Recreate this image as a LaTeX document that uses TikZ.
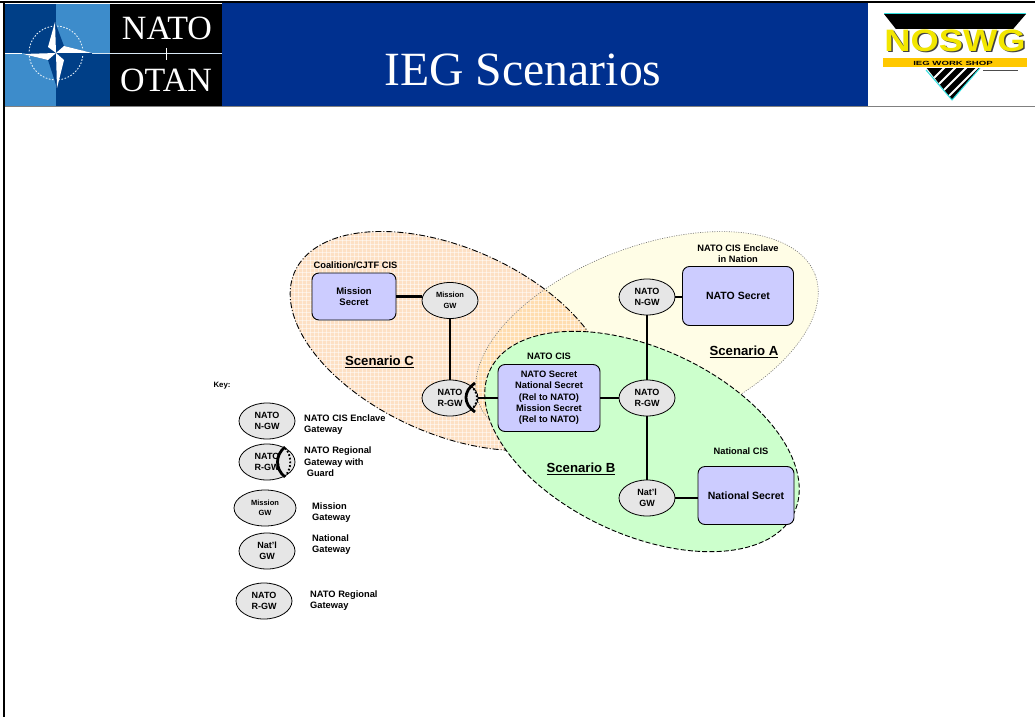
\documentclass[tikz,border=0pt]{standalone}
\usepackage{fontspec}
\setmainfont{Liberation Sans}
\newfontfamily\serifhead{Liberation Serif}
\usetikzlibrary{shapes.geometric}
\definecolor{navyh}{HTML}{00308F}
\definecolor{boxfill}{HTML}{CCCCFF}
\definecolor{gwfill}{HTML}{E6E6E6}
\definecolor{orangef}{HTML}{FDE0C4}
\definecolor{overlapf}{HTML}{FFDDB0}
\definecolor{yellowf}{HTML}{FFFDE6}
\definecolor{greenf}{HTML}{CCFFCC}
\definecolor{natodark}{HTML}{003F87}
\definecolor{natolight}{HTML}{3D8CCB}
\definecolor{logoy}{HTML}{F2E600}
\definecolor{logoo}{HTML}{FFC800}
\definecolor{logoc}{HTML}{30E0E0}
\tikzset{
 x=1pt,y=-1pt,
 sysbox/.style={draw=black,fill=boxfill,line width=0.9pt,rounded corners=7pt,font=\fontsize{9.5}{11.5}\bfseries\selectfont,align=center,inner sep=0pt},
 gw/.style={draw=black,fill=gwfill,line width=0.8pt,ellipse,minimum width=56pt,minimum height=36pt,inner sep=0pt,align=center,font=\fontsize{9}{11}\bfseries\selectfont},
 gwsmall/.style={gw,font=\fontsize{7.5}{10.5}\bfseries\selectfont},
 lab/.style={font=\fontsize{9.3}{11.6}\bfseries\selectfont,align=left,anchor=west,inner sep=0pt},
 captext/.style={font=\fontsize{9.3}{11}\bfseries\selectfont,align=center,inner sep=0pt},
 scen/.style={font=\fontsize{13.2}{15}\bfseries\selectfont,inner sep=0pt},
 link/.style={line width=2.8pt,draw=black},
 guardo/.style={line width=2.8pt},
 guardi/.style={line width=1.9pt,dash pattern=on 1.7pt off 2pt},
 pw/.style={fill=white},
}
\def\ellorange{plot[domain=0:360,samples=180,variable=\t] ({450+170*cos(\t)*cos(24)-93*sin(\t)*sin(24)},{341+170*cos(\t)*sin(24)+93*sin(\t)*cos(24)}) -- cycle}
\def\ellyellow{plot[domain=0:360,samples=180,variable=\t] ({647+180*cos(\t)*cos(21)+92*sin(\t)*sin(21)},{339-180*cos(\t)*sin(21)+92*sin(\t)*cos(21)}) -- cycle}
\def\ellgreen{plot[domain=0:360,samples=180,variable=\t] ({642+168*cos(\t)*cos(25)-93*sin(\t)*sin(25)},{441.5+168*cos(\t)*sin(25)+93*sin(\t)*cos(25)}) -- cycle}
\begin{document}
\begin{tikzpicture}
\useasboundingbox (0,0) rectangle (1035,717);
\fill[white] (0,0) rectangle (1035,717);
% header
\fill[navyh] (222,3) rectangle (868,106);
\fill[black] (110,4) rectangle (222,106);
\fill[natodark] (5,4) rectangle (56,53);
\fill[natolight] (56,4) rectangle (110,53);
\fill[natolight] (5,53) rectangle (56,106);
\fill[natodark] (56,53) rectangle (110,106);
\draw[white!85!natolight,line width=0.9pt,dash pattern=on 1.6pt off 1.6pt] (56,53) circle (27);
\draw[white,line width=0.9pt] (5,53) -- (22,53);
\draw[white!80!natolight,line width=0.9pt] (92,53) -- (222,53);
\draw[white,line width=0.9pt] (166,48) -- (166,60);
\fill[natodark] (55,22) -- (64,46) -- (92,53) -- (64,60) -- (57,88) -- (48,60) -- (23,54) -- (48,47) -- cycle;
\fill[pw] (56,53) -- (55,22) -- (48,47) -- cycle;
\fill[pw] (56,53) -- (92,53) -- (64,46) -- cycle;
\fill[pw] (56,53) -- (57,88) -- (64,60) -- cycle;
\fill[pw] (56,53) -- (23,54) -- (48,60) -- cycle;
\node[text=white,font=\serifhead\fontsize{34}{36}\selectfont,inner sep=0pt] (natot) at (167,28) {NATO};
\node[text=white,font=\serifhead\fontsize{34}{36}\selectfont,inner sep=0pt] (otant) at (166,80) {OTAN};
\node[text=white,font=\serifhead\fontsize{47.7}{50}\selectfont,inner sep=0pt] (title) at (523,70) {IEG Scenarios};
% NOSWG logo
\begin{scope}
\clip (884,14) -- (1026,14) -- (952,100) -- cycle;
\fill[black] (880,10) rectangle (1030,105);
\foreach \i in {0,...,5}{\draw[white,line width=2pt] (922+\i*9,90+\i*2) -- (952+\i*9,60+\i*2);}
\end{scope}
\draw[logoc,line width=1pt] (884,13.5) -- (1026,13.5);
\draw[logoc,line width=1pt] (926,70) -- (952,100) -- (980,68);
\fill[white] (880,29) rectangle (1030,68);
\node[text=black!75,font=\fontsize{31}{32}\bfseries\selectfont,inner sep=0pt,xscale=1.17] (nosb) at (956.5,42) {NOSWG};
\node[text=logoy,font=\fontsize{31}{32}\bfseries\selectfont,inner sep=0pt,xscale=1.17] (nos) at (955,40.5) {NOSWG};
\fill[logoo] (883,58) rectangle (1027,67);
\fill[black!70] (983,69.5) rectangle (1018,71);
\node[text=black,font=\fontsize{6}{7}\bfseries\selectfont,inner sep=0pt,xscale=1.6] (shop) at (953,63) {IEG WORK SHOP};
% frame
\draw[black,line width=2.4pt] (0,2) -- (1035,2);
\draw[black,line width=1.6pt] (4,2) -- (4,717);
\draw[gray,line width=0.8pt] (5,106.5) -- (1035,106.5);
% scenario regions
\fill[orangef] \ellorange;
\begin{scope}
\clip \ellorange;
\foreach \k in {0,...,90}{\draw[white,opacity=0.5,line width=0.6pt] (270+\k*4,220) -- (270+\k*4,460);}
\foreach \k in {0,...,60}{\draw[white,opacity=0.5,line width=0.6pt] (270,220+\k*4) -- (620,220+\k*4);}
\end{scope}
\fill[yellowf] \ellyellow;
\begin{scope}
\clip \ellyellow;
\fill[overlapf] \ellorange;
\clip \ellorange;
\foreach \k in {0,...,90}{\draw[white,opacity=0.5,line width=0.6pt] (270+\k*4,220) -- (270+\k*4,460);}
\foreach \k in {0,...,60}{\draw[white,opacity=0.5,line width=0.6pt] (270,220+\k*4) -- (620,220+\k*4);}
\end{scope}
\draw[black,line width=0.9pt,dash pattern=on 6pt off 2pt on 1pt off 2pt] \ellorange;
\draw[black!55,line width=0.6pt,dash pattern=on 1pt off 1.4pt] \ellyellow;
\draw[black,fill=greenf,line width=0.9pt,dash pattern=on 5pt off 2.2pt] \ellgreen;
% nodes
\node[sysbox,minimum width=84pt,minimum height=47pt] (ms) at (354,296.5) {Mission\\Secret};
\node[gwsmall] (mgw) at (450,300.5) {Mission\\GW};
\node[gw] (rgwc) at (450,398) {NATO\\R-GW};
\node[sysbox,minimum width=102pt,minimum height=67pt,font=\fontsize{9.3}{11.3}\bfseries\selectfont] (nc) at (549,398) {NATO Secret\\National Secret\\(Rel to NATO)\\Mission Secret\\(Rel to NATO)};
\node[gw] (rgwb) at (647,398) {NATO\\R-GW};
\node[gw] (ngw) at (647,297) {NATO\\N-GW};
\node[sysbox,minimum width=111pt,minimum height=59pt,font=\fontsize{10.5}{12}\bfseries\selectfont] (ns) at (738,296) {NATO Secret};
\node[gw] (natl) at (647,498) {Nat'l\\GW};
\node[sysbox,minimum width=96pt,minimum height=58pt,font=\fontsize{10.5}{12}\bfseries\selectfont] (nat) at (746,495.5) {National Secret};
\draw[link] (ms.east) -- (ms.east -| mgw.west);
\draw[link] (mgw) -- (rgwc);
\draw[link] (rgwb) -- (nc);
\draw[link] (rgwb) -- (ngw);
\draw[link] (ngw.east) -- (ngw.east -| ns.west);
\draw[link] (rgwb) -- (natl);
\draw[link] (natl.east) -- (natl.east -| nat.west);
\draw[link] (nc) -- (rgwc);
\draw[guardo] (475,383) .. controls (463,391) and (463,404) .. (475,412);
\draw[guardi] (471,386) .. controls (479,393) and (479,403) .. (471,410);
% captions
\node[captext] (c1) at (355.5,265.5) {Coalition/CJTF CIS};
\node[captext] (c2) at (549,356.5) {NATO CIS};
\node[captext] (c3) at (738,254) {NATO CIS Enclave\\in Nation};
\node[captext] (c4) at (741,451) {National CIS};
\node[scen] (sa) at (744,352) {\underline{Scenario A}};
\node[scen] (sb) at (581,468.5) {\underline{Scenario B}};
\node[scen] (sc) at (379.5,362) {\underline{Scenario C}};
% key
\node[captext,font=\fontsize{7.8}{9}\bfseries\selectfont] (key) at (222,386) {Key:};
\node[gw] (k1) at (267,421) {NATO\\N-GW};
\node[gw] (k2) at (267,462) {NATO\\R-GW};
\draw[guardo] (285,447) .. controls (275,455) and (275,469) .. (285,477);
\draw[guardi] (285,448) .. controls (292,455) and (292,469) .. (285,476);
\node[gwsmall,minimum width=62pt] (k3) at (265,508) {Mission\\GW};
\node[gw] (k4) at (267,551) {Nat'l\\GW};
\node[gw] (k5) at (264,601) {NATO\\R-GW};
\node[lab] (l1) at (304,424.5) {NATO CIS Enclave\\Gateway};
\node[lab] (l2) at (304,462) {NATO Regional\\Gateway with\\ \ Guard};
\node[lab] (l3) at (312,512.5) {Mission\\Gateway};
\node[lab] (l4) at (312,544.5) {National\\Gateway};
\node[lab] (l5) at (310,600.5) {NATO Regional\\Gateway};
\end{tikzpicture}
\end{document}
